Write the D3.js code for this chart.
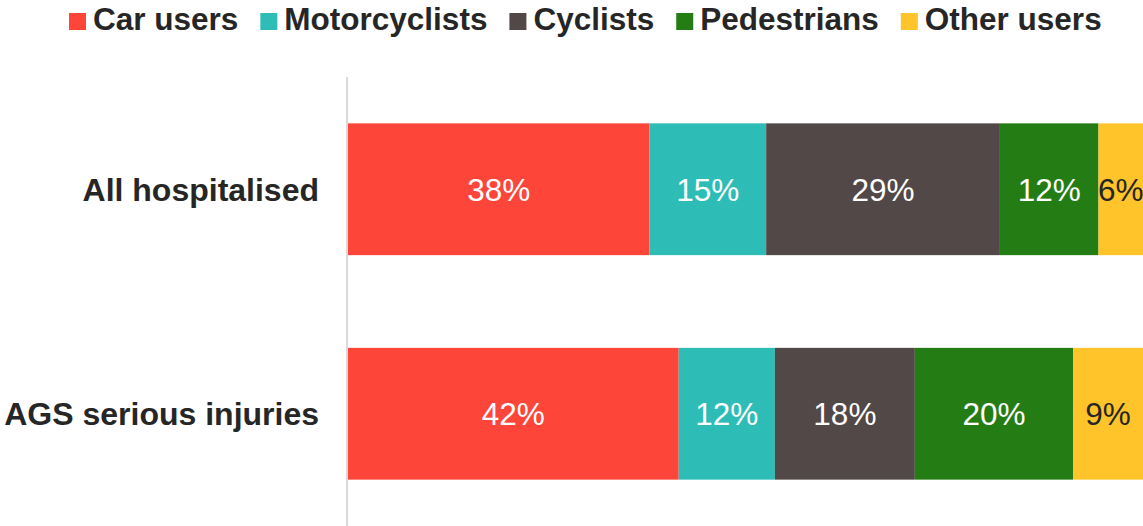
<!DOCTYPE html>
<html>
<head>
<meta charset="utf-8">
<script src="https://cdn.jsdelivr.net/npm/d3@7"></script>
<style>
  body { margin: 0; background: #fff; }
  svg { display: block; font-family: "Liberation Sans", Arial, sans-serif; }
  .legend text { font-weight: bold; font-size: 31.5px; fill: #262626; }
  .cat-label { font-weight: bold; font-size: 32px; fill: #262626; }
  .pct { font-size: 31.5px; }
</style>
</head>
<body>
<div id="chart"></div>
<script>
"use strict";

// *********** road injuries by user type *************
var categories = ["All hospitalised", "AGS serious injuries"];
var seriesNames = ["Car users", "Motorcyclists", "Cyclists", "Pedestrians", "Other users"];
var seriesColors = ["#fe4539", "#2ebdb6", "#524847", "#237d14", "#fec42a"];
var labelColors = ["#ffffff", "#ffffff", "#ffffff", "#ffffff", "#262626"];

// share of each user type, in percent, per category
var carUsers = [37.9, 41.6];
var motorcyclists = [14.7, 12.1];
var cyclists = [29.4, 17.6];
var pedestrians = [12.4, 19.9];
var otherUsers = [5.6, 8.8];

var width = 1143;
var height = 526;
var plotLeft = 348;
var plotTop = 77;

var svg = d3.select("#chart").append("svg").attr("width", width).attr("height", height);

var x = d3.scaleLinear().domain([0, 100]).range([plotLeft, width]);
var y = d3.scaleBand().domain(categories).range([plotTop, height]).paddingInner(0.413).paddingOuter(0.2065);

var rows = categories.map(function (c, i) {
  return { category: c, values: [carUsers[i], motorcyclists[i], cyclists[i], pedestrians[i], otherUsers[i]] };
});

// bars
rows.forEach(function (row) {
  var pos = 0;
  var g = svg.append("g").attr("class", "stacked-bar");
  row.values.forEach(function (v, k) {
    g.append("rect")
      .attr("x", x(pos))
      .attr("y", y(row.category))
      .attr("width", x(pos + v) - x(pos))
      .attr("height", y.bandwidth())
      .attr("fill", seriesColors[k]);
    g.append("text")
      .attr("class", "pct")
      .attr("x", x(pos + v / 2))
      .attr("y", y(row.category) + y.bandwidth() / 2)
      .attr("dy", "0.36em")
      .attr("text-anchor", "middle")
      .attr("fill", labelColors[k])
      .text(Math.round(v) + "%");
    pos += v;
  });
});

// category axis
var yAxis = svg.append("g").attr("transform", "translate(" + (plotLeft - 1) + ",0)");
yAxis.append("line").attr("x1", 0).attr("x2", 0).attr("y1", plotTop).attr("y2", height)
  .attr("stroke", "#d9d9d9").attr("stroke-width", 2);
yAxis.selectAll(".cat-label").data(categories).enter().append("text")
  .attr("class", "cat-label")
  .attr("x", -28)
  .attr("y", function (d) { return y(d) + y.bandwidth() / 2; })
  .attr("dy", "0.36em")
  .attr("text-anchor", "end")
  .text(function (d) { return d; });

// legend
var boxSize = 17;
var legend = svg.append("g").classed("legend", true);
var lx = 69;
seriesNames.forEach(function (name, k) {
  legend.append("rect").attr("x", lx).attr("y", 13).attr("width", boxSize).attr("height", boxSize)
    .attr("fill", seriesColors[k]);
  var t = legend.append("text").attr("x", lx + boxSize + 7).attr("y", 30).text(name);
  lx = lx + boxSize + 7 + t.node().getComputedTextLength() + 22;
});
</script>
</body>
</html>
